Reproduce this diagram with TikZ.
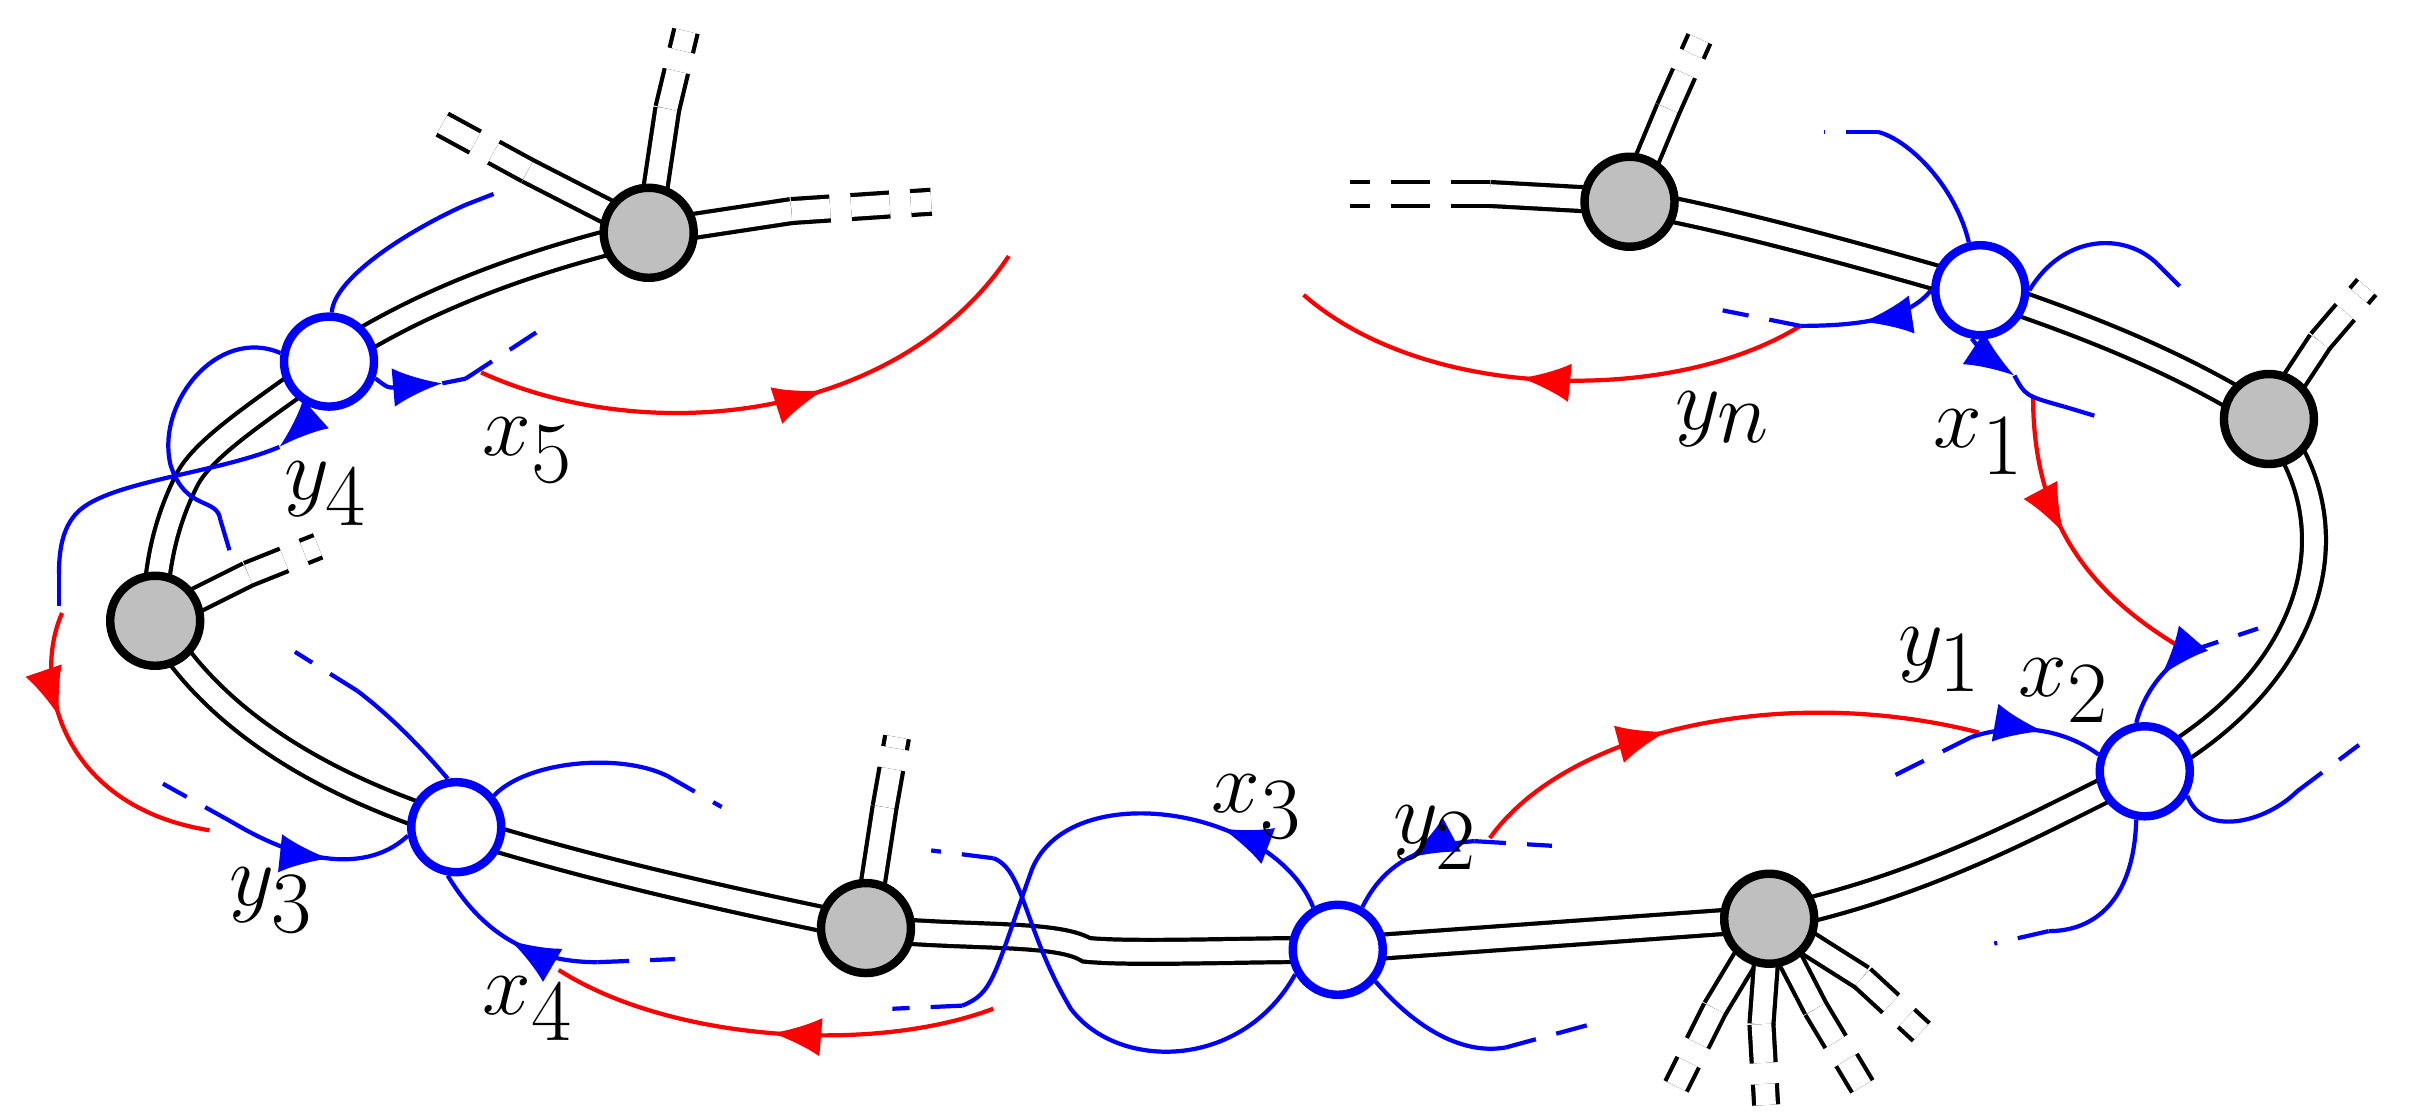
\documentclass[tikz,border=0pt]{standalone}
\usetikzlibrary{decorations.markings,arrows.meta}
\begin{document}
\begin{tikzpicture}[x=0.01552cm,y=-0.01552cm,
 rib/.style={draw=black,double=white,line width=1.2pt,double distance=5.6pt},
 ribd/.style={rib,dash pattern=on 11pt off 6pt},
 gnode/.style={circle,draw=black,fill=gray!50,line width=2.4pt,minimum size=0.9cm,inner sep=0pt},
 bnode/.style={circle,draw=blue,fill=white,line width=2.4pt,minimum size=0.9cm,inner sep=0pt},
 bl/.style={blue,line width=1.2pt},
 bla/.style={bl,-{Latex[length=14pt,width=11pt]}},
 bld/.style={blue,line width=1.2pt,dash pattern=on 9pt off 6pt},
 rd/.style={red,line width=1.2pt},
 mid/.style={postaction={decorate},decoration={markings,mark=at position #1 with {\arrow{Latex[length=14pt,width=11pt]}}}},
 midr/.style={postaction={decorate},decoration={markings,mark=at position #1 with {\arrowreversed{Latex[length=14pt,width=11pt]}}}},
 lab/.style={font=\fontsize{37}{40}\selectfont}]
\useasboundingbox (0,0) rectangle (1560,721);
% coordinates
\coordinate (g1) at (418,150); \coordinate (g2) at (1050,130); \coordinate (g3) at (1462,270);
\coordinate (g4) at (100,400); \coordinate (g5) at (558,598); \coordinate (g6) at (1140,592);
\coordinate (b1) at (212,233); \coordinate (b2) at (1276,187); \coordinate (b3) at (1382,497);
\coordinate (b4) at (294,533); \coordinate (b5) at (862,612);
% ribbons
\draw[rib] (g1) .. controls (330,170) and (260,200) .. (b1);
\draw[rib] (b1) .. controls (160,270) and (130,290) .. (120,310) .. controls (105,340) and (100,370) .. (g4);
\draw[rib] (g4) .. controls (140,470) and (220,510) .. (b4);
\draw[rib] (b4) .. controls (380,560) and (470,580) .. (g5);
\draw[rib] (g5) .. controls (620,605) and (680,600) .. (700,612) .. controls (730,615) and (800,612) .. (b5);
\draw[rib] (b5) -- (g6);
\draw[rib] (g6) .. controls (1250,570) and (1330,520) .. (b3);
\draw[rib] (b3) .. controls (1490,440) and (1520,340) .. (g3);
\draw[rib] (g3) .. controls (1400,230) and (1330,205) .. (b2);
\draw[rib] (b2) .. controls (1200,165) and (1110,140) .. (g2);
% stubs
\draw[rib] (g1) -- (510,136); \draw[ribd] (510,136) -- (600,130);
\draw[rib] (g2) -- (960,125); \draw[ribd] (960,125) -- (870,125);
\draw[rib] (g1) -- (430,70); \draw[ribd] (430,70) -- (442,20);
\draw[rib] (g1) -- (340,110); \draw[ribd] (340,110) -- (285,80);
\draw[rib] (g2) -- (1075,70); \draw[ribd] (1075,70) -- (1095,25);
\draw[rib] (g3) -- (1495,220); \draw[ribd] (1495,220) -- (1525,185);
\draw[rib] (g4) -- (160,370); \draw[ribd] (160,370) -- (205,352);
\draw[rib] (g5) -- (570,520); \draw[ribd] (570,520) -- (578,475);
\draw[rib] (g6) -- (1105,650); \draw[ribd] (1105,650) -- (1080,700);
\draw[rib] (g6) -- (1135,660); \draw[ribd] (1135,660) -- (1138,712);
\draw[rib] (g6) -- (1170,650); \draw[ribd] (1170,650) -- (1200,700);
\draw[rib] (g6) -- (1200,630); \draw[ribd] (1200,630) -- (1238,665);
% nodes
\foreach \n in {g1,g2,g3,g4,g5,g6} \node[gnode] (\n n) at (\n) {};
\foreach \n in {b1,b2,b3,b4,b5} \node[bnode] (\n n) at (\n) {};
% red arcs
\draw[rd,mid=0.6] (310,240) .. controls (420,290) and (580,270) .. (650,165);
\draw[rd,mid=0.55] (1160,210) .. controls (1080,260) and (920,260) .. (840,190);
\draw[rd,mid=0.45] (1310,255) .. controls (1310,330) and (1340,380) .. (1410,420);
\draw[rd,mid=0.4] (960,540) .. controls (1010,470) and (1150,440) .. (1275,472);
\draw[rd,mid=0.35] (40,395) .. controls (20,440) and (40,520) .. (135,535);
\draw[rd,mid=0.5] (640,650) .. controls (560,680) and (430,670) .. (360,625);
% blue arcs b1
\draw[bl] (b1n) .. controls (215,180) and (260,150) .. (300,132); \draw[bld] (300,132) -- (318,125);
\coordinate (a5) at (285,247);
\draw[bla] (b1n.-20) .. controls (250,250) .. (a5); \draw[bl] (a5) -- (300,244); \draw[bld] (300,244) -- (355,208);
\coordinate (a4) at (180,288);
\draw[bla] (b1n.-115) .. controls (200,270) .. (a4);
\draw[bl] (a4) .. controls (140,305) and (70,310) .. (50,330) .. controls (40,340) and (38,355) .. (38,370); \draw[bld] (38,370) -- (38,395);
\draw[bl] (b1n.170) .. controls (140,210) and (100,260) .. (110,300) .. controls (120,330) and (140,320) .. (142,335); \draw[bld] (142,335) -- (148,355);
% b2
\draw[bl] (b2n) .. controls (1260,120) and (1230,90) .. (1210,85); \draw[bld] (1210,85) -- (1175,85);
\draw[bl] (b2n.east) .. controls (1330,150) and (1370,150) .. (1390,170); \draw[bld] (1390,170) -- (1410,190);
\draw[bl,mid=0.55] (b2n.west) .. controls (1230,205) and (1200,210) .. (1160,210); \draw[bld] (1160,210) -- (1110,200);
\coordinate (a1) at (1298,242);
\draw[bla] (b2n.-100) .. controls (1280,230) .. (a1); \draw[bl] (a1) .. controls (1305,255) .. (1330,262); \draw[bld] (1330,262) -- (1350,268);
% b3
\draw[bl,mid=0.4] (1410,420) .. controls (1395,430) and (1382,445) .. (b3n.100); \draw[bld] (1410,420) -- (1455,405);
\draw[bl,mid=0.55] (1270,475) .. controls (1300,465) and (1330,470) .. (b3n.160); \draw[bld] (1270,475) -- (1220,500);
\draw[bl] (b3n.-30) .. controls (1420,540) and (1460,530) .. (1480,510); \draw[bld] (1480,510) -- (1520,480);
\draw[bl] (b3n.-100) .. controls (1375,580) and (1350,600) .. (1320,600); \draw[bld] (1320,600) -- (1285,608);
% b4
\draw[bl] (b4n.100) .. controls (270,480) and (250,460) .. (230,445); \draw[bld] (230,445) -- (190,420);
\draw[bl] (b4n.40) .. controls (340,490) and (400,485) .. (430,500); \draw[bld] (430,500) -- (465,520);
\draw[bl,mid=0.55] (150,530) .. controls (200,560) and (240,560) .. (b4n.190); \draw[bld] (150,530) -- (105,505);
\draw[bl,mid=0.5] (385,620) .. controls (340,620) and (310,600) .. (b4n.-100); \draw[bld] (385,620) -- (435,618);
% b5
\draw[bl,mid=0.25] (b5n.120) .. controls (820,520) and (690,500) .. (665,560) .. controls (640,630) and (640,640) .. (620,648); \draw[bld] (620,648) -- (575,650);
\draw[bl] (b5n.-150) .. controls (800,690) and (720,690) .. (690,650) .. controls (660,600) and (660,560) .. (640,553); \draw[bld] (640,553) -- (600,548);
\draw[bl,midr=0.5] (b5n.60) .. controls (890,560) and (910,545) .. (950,542); \draw[bld] (950,542) -- (1000,545);
\draw[bl] (b5n.-40) .. controls (910,660) and (940,680) .. (970,675); \draw[bld] (970,675) -- (1025,660);
% labels
\node[lab] (lx5) at (340,290) {$x_5$};
\node[lab] (ly4) at (210,318) {$y_4$};
\node[lab] (ly3) at (175,580) {$y_3$};
\node[lab] (lx4) at (340,650) {$x_4$};
\node[lab] (lx3) at (810,520) {$x_3$};
\node[lab] (ly2) at (925,540) {$y_2$};
\node[lab] (ly1) at (1250,425) {$y_1$};
\node[lab] (lx2) at (1330,445) {$x_2$};
\node[lab] (lx1) at (1275,285) {$x_1$};
\node[lab] (lyn) at (1110,270) {$y_n$};
\end{tikzpicture}
\end{document}
